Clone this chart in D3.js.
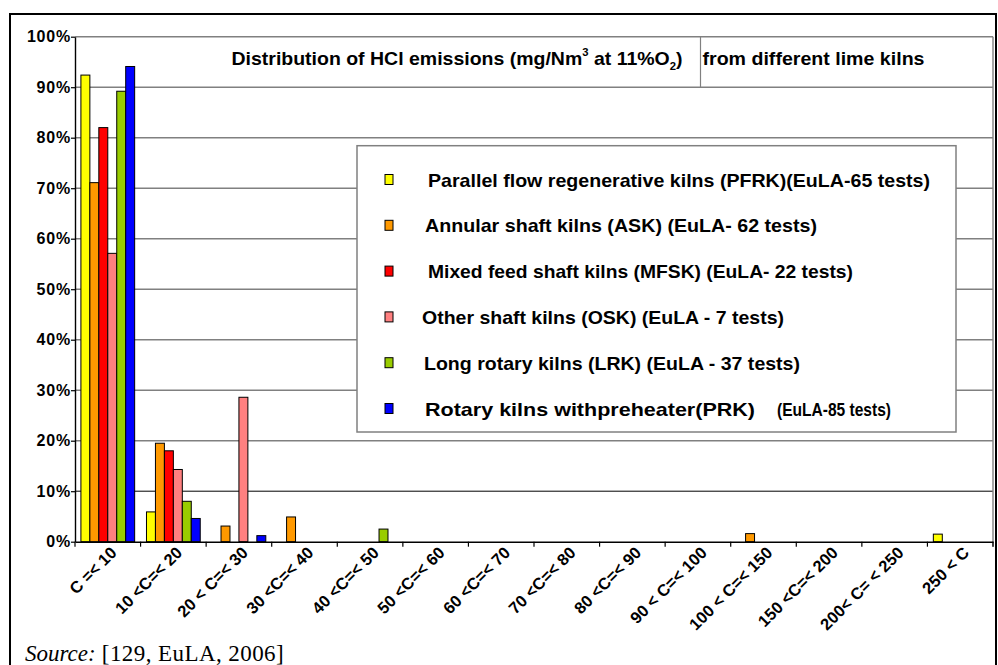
<!DOCTYPE html>
<html><head><meta charset="utf-8">
<script src="https://cdn.jsdelivr.net/npm/d3@7"></script>
<style>body{margin:0;background:#fff}svg{display:block}</style>
</head><body>
<svg id="c" width="998" height="665"></svg>
<script>
// ---- data ----
const categories = ["C =< 10","10 <C=< 20","20 < C=< 30","30 <C=< 40","40 <C=< 50","50 <C=< 60","60 <C=< 70","70 <C=< 80","80 <C=< 90","90 < C=< 100","100 < C=< 150","150 <C=< 200","200< C= < 250","250 < C"];
const seriesKeys = ["PFRK","ASK","MFSK","OSK","LRK","PRK"];
const seriesColors = ["#FFFF00","#FF9900","#FF0000","#FF8080","#99CC00","#0000FF"];
const legendLabels = [
  ["Parallel flow regenerative kilns (PFRK)(EuLA-65 tests)"],
  ["Annular shaft kilns (ASK) (EuLA- 62 tests)"],
  ["Mixed feed shaft kilns (MFSK) (EuLA- 22 tests)"],
  ["Other shaft kilns (OSK) (EuLA - 7 tests)"],
  ["Long rotary kilns (LRK) (EuLA - 37 tests)"],
  ["Rotary kilns withpreheater(PRK)", "(EuLA-85 tests)"]
];
const pfrk = [92.4, 5.9, 0, 0, 0, 0, 0, 0, 0, 0, 0, 0, 0, 1.5];
const ask  = [71.1, 19.5, 3.1, 4.9, 0, 0, 0, 0, 0, 0, 1.6, 0, 0, 0];
const mfsk = [82.0, 18.0, 0, 0, 0, 0, 0, 0, 0, 0, 0, 0, 0, 0];
const osk  = [57.1, 14.3, 28.6, 0, 0, 0, 0, 0, 0, 0, 0, 0, 0, 0];
const lrk  = [89.2, 8.0, 0, 0, 2.5, 0, 0, 0, 0, 0, 0, 0, 0, 0];
const prk  = [94.1, 4.6, 1.2, 0, 0, 0, 0, 0, 0, 0, 0, 0, 0, 0];
const seriesValues = [pfrk, ask, mfsk, osk, lrk, prk];
const yTicks = [0,10,20,30,40,50,60,70,80,90,100];

// ---- layout ----
const svg = d3.select("#c");
const P = {left:75, right:993, top:36.7, bottom:541.7};
const x = d3.scaleBand().domain(categories).range([P.left, P.right]).padding(0);
const xs = d3.scaleBand().domain(seriesKeys).range([0, x.bandwidth()]).paddingInner(0).paddingOuter(0.66);
const y = d3.scaleLinear().domain([0,100]).range([P.bottom, P.top]);

svg.append("rect").attr("width",998).attr("height",665).attr("fill","#fff");

// gridlines
svg.append("g").selectAll("line").data(yTicks.filter(d=>d>0)).join("line")
  .attr("x1",P.left).attr("x2",P.right)
  .attr("y1",d=>y(d)).attr("y2",d=>y(d))
  .attr("stroke",d=>d===10?"#000":"#808080")
  .attr("stroke-width",d=>d===10?1:1.4);
// plot right border
svg.append("line").attr("x1",P.right).attr("x2",P.right).attr("y1",P.top).attr("y2",P.bottom+5)
  .attr("stroke","#808080").attr("stroke-width",1.4);
// title box edge
svg.append("line").attr("x1",700.5).attr("x2",700.5).attr("y1",y(100)).attr("y2",y(90))
  .attr("stroke","#808080").attr("stroke-width",1.2);

// bars
const flat = [];
seriesValues.forEach((vals,si)=>vals.forEach((v,ci)=>{ if(v>0) flat.push({s:seriesKeys[si],c:categories[ci],v:v,col:seriesColors[si]}); }));
svg.append("g").selectAll("rect").data(flat).join("rect")
  .attr("x",d=>x(d.c)+xs(d.s))
  .attr("width",xs.bandwidth())
  .attr("y",d=>y(d.v))
  .attr("height",d=>y(0)-y(d.v))
  .attr("fill",d=>d.col)
  .attr("stroke","#000").attr("stroke-width",1);

// y axis
const ya = svg.append("g").attr("transform",`translate(${P.left},0)`)
  .call(d3.axisLeft(y).tickValues(yTicks).tickSize(4).tickSizeOuter(0).tickPadding(0).tickFormat(d=>d+"%"));
ya.select(".domain").attr("stroke","#000").attr("stroke-width",1.4);
ya.selectAll(".tick line").attr("stroke","#000").attr("stroke-width",1.2);
ya.selectAll(".tick text").attr("font-family","Liberation Sans, Arial, sans-serif")
  .attr("font-weight","bold").attr("font-size",16).attr("letter-spacing","0.8px").attr("fill","#000");

// x axis
const xa = svg.append("g").attr("transform",`translate(0,${P.bottom})`)
  .call(d3.axisBottom(x).tickSize(0).tickSizeOuter(0).tickFormat(""));
xa.select(".domain").attr("stroke","#000").attr("stroke-width",1.4);
const bounds = categories.map(c=>x(c)).concat([P.right]);
svg.append("g").selectAll("line").data(bounds).join("line")
  .attr("x1",d=>d).attr("x2",d=>d).attr("y1",P.bottom).attr("y2",P.bottom+5)
  .attr("stroke","#000").attr("stroke-width",1.2);
svg.append("g").selectAll("text").data(categories).join("text")
  .attr("transform",c=>`translate(${x(c)+x.bandwidth()/2+10},${P.bottom+12}) rotate(-45)`)
  .attr("text-anchor","end")
  .attr("font-family","Liberation Sans, Arial, sans-serif")
  .attr("font-weight","bold").attr("font-size",16.5).attr("fill","#000")
  .text(c=>c);

// title
const tf = "Liberation Sans, Arial, sans-serif";
const tg = svg.append("g").attr("font-family",tf).attr("font-weight","bold").attr("fill","#000");
const t1 = tg.append("text").attr("x",231.5).attr("y",65).attr("font-size",19)
  .attr("textLength",451).attr("lengthAdjust","spacingAndGlyphs");
t1.append("tspan").text("Distribution of HCl emissions (mg/Nm");
t1.append("tspan").attr("font-size",11).attr("dy",-9).text("3");
t1.append("tspan").attr("dy",9).text(" at 11%O");
t1.append("tspan").attr("font-size",11).attr("dy",5).text("2");
t1.append("tspan").attr("dy",-5).text(")");
tg.append("text").attr("x",702.5).attr("y",65).attr("font-size",19)
  .attr("textLength",222).attr("lengthAdjust","spacingAndGlyphs").text("from different lime kilns");

// legend
const lg = svg.append("g");
lg.append("rect").attr("x",357).attr("y",145.7).attr("width",599).attr("height",286.3)
  .attr("fill","#fff").attr("stroke","#808080").attr("stroke-width",1.5);
const rowY = d3.scalePoint().domain(seriesKeys).range([179.5,408.5]);
const textX = [428,425,428,422,424,425];
const textW = [502,392,425,362,376,330];
lg.selectAll("rect.m").data(seriesKeys).join("rect").attr("class","m")
  .attr("x",385).attr("y",k=>rowY(k)-5).attr("width",8).attr("height",10)
  .attr("fill",(k,i)=>seriesColors[i]).attr("stroke","#000").attr("stroke-width",1);
seriesKeys.forEach((k,i)=>{
  lg.append("text").attr("x",textX[i]).attr("y",rowY(k)+7)
    .attr("font-family",tf).attr("font-weight","bold").attr("font-size",19).attr("fill","#000")
    .attr("textLength",textW[i]).attr("lengthAdjust","spacingAndGlyphs")
    .text(legendLabels[i][0]);
  if(legendLabels[i][1]){
    lg.append("text").attr("x",777).attr("y",rowY(k)+7)
      .attr("font-family",tf).attr("font-weight","bold").attr("font-size",19).attr("fill","#000")
      .attr("textLength",114).attr("lengthAdjust","spacingAndGlyphs")
      .text(legendLabels[i][1]);
  }
});

// outer frame
svg.append("rect").attr("x",10).attr("y",14).attr("width",986).attr("height",700)
  .attr("fill","none").attr("stroke","#000").attr("stroke-width",2);

// source
const st = svg.append("text").attr("x",25).attr("y",661)
  .attr("font-family","Liberation Serif, Times New Roman, serif").attr("font-size",23).attr("fill","#000");
st.append("tspan").attr("font-style","italic").text("Source:");
st.append("tspan").attr("textLength",188).attr("lengthAdjust","spacing").text(" [129, EuLA, 2006]");
</script>
</body></html>
